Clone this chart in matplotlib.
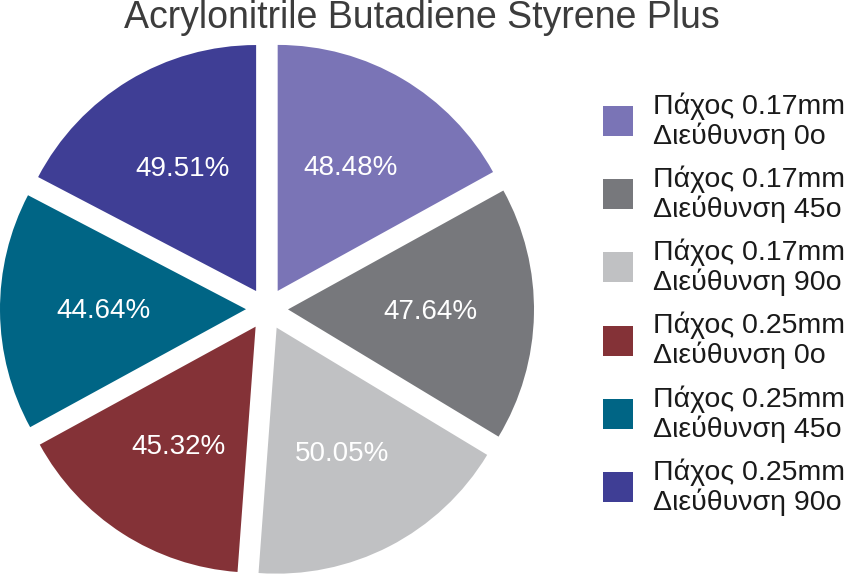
import numpy as np
import matplotlib.pyplot as plt
from matplotlib.patches import Rectangle

plt.rcParams['font.family'] = ['Liberation Sans', 'DejaVu Sans']

# data
title = 'Acrylonitrile Butadiene Styrene Plus'
values = [48.48, 47.64, 50.05, 45.32, 44.64, 49.51]
labels = ['Πάχος 0.17mm\nΔιεύθυνση 0o',
          'Πάχος 0.17mm\nΔιεύθυνση 45o',
          'Πάχος 0.17mm\nΔιεύθυνση 90o',
          'Πάχος 0.25mm\nΔιεύθυνση 0o',
          'Πάχος 0.25mm\nΔιεύθυνση 45o',
          'Πάχος 0.25mm\nΔιεύθυνση 90o']
colors = ['#7a74b6', '#77787c', '#c0c1c3', '#843237', '#006585', '#3f3e95']

total = sum(values)

W, H = 844, 575
fig = plt.figure(figsize=(W / 100, H / 100), dpi=100)
ax = fig.add_axes([0, 0, 1, 1])

# pie centre and radius in pixels
cx, cy, R = 267, 309, 246

wedges, texts, autotexts = ax.pie(
    values, colors=colors, startangle=90, counterclock=False,
    explode=[21 / R] * len(values), radius=1,
    autopct=lambda p: '%.2f%%' % (p * total / 100), pctdistance=0.58,
    wedgeprops=dict(linewidth=0),
    textprops=dict(color='white', fontsize=20))

ax.set_aspect('auto')
ax.set_xlim(-cx / R, (W - cx) / R)
ax.set_ylim((cy - H) / R, cy / R)
ax.axis('off')

fig.text(422 / W, 1 - 28 / H, title, ha='center', va='baseline',
         fontsize=27, color='#3c3c3c')

# legend
for i, (lab, col) in enumerate(zip(labels, colors)):
    yc = 121 + i * 73.2
    fig.patches.append(Rectangle((603 / W, 1 - (yc + 15) / H), 30 / W, 30 / H,
                                 transform=fig.transFigure, facecolor=col,
                                 edgecolor='none'))
    fig.text(653 / W, 1 - yc / H, lab, ha='left', va='center',
             fontsize=20.5, color='#1a1a1a', linespacing=1.12)

fig.savefig('out.png', dpi=100)
